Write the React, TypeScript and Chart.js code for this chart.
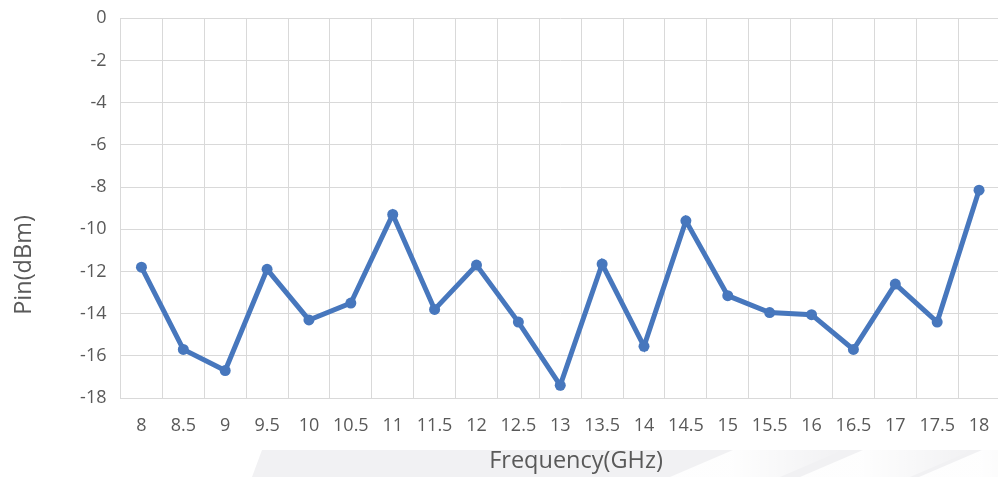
import React, { useEffect, useRef } from 'react';
import { Chart, registerables } from 'chart.js';

Chart.register(...registerables);

const frequencies: string[] = ['8', '8.5', '9', '9.5', '10', '10.5', '11', '11.5', '12', '12.5', '13', '13.5', '14', '14.5', '15', '15.5', '16', '16.5', '17', '17.5', '18'];
const pinValues: number[] = [-11.8, -15.7, -16.7, -11.9, -14.3, -13.5, -9.3, -13.8, -11.7, -14.4, -17.4, -11.65, -15.55, -9.6, -13.15, -13.95, -14.05, -15.7, -12.6, -14.4, -8.15];
const yMin = -18;
const yMax = 0;
const yStep = 2;
const xTitle = 'Frequency(GHz)';
const yTitle = 'Pin(dBm)';

const FONT = '"Open Sans", "Noto Sans", sans-serif';
const TEXT = '#595959';
const LINE = '#4777BD';
const GRID = '#D9D9D9';

const decor = {
  id: 'decor',
  beforeDraw(chart: any) {
    const ctx = chart.ctx as CanvasRenderingContext2D;
    ctx.save();
    ctx.fillStyle = '#F1F1F3';
    ctx.beginPath();
    ctx.moveTo(262, 450);
    ctx.lineTo(1000, 450);
    ctx.lineTo(1000, 477);
    ctx.lineTo(252, 477);
    ctx.closePath();
    ctx.fill();
    const stripes = [733, 863, 982];
    stripes.forEach((x0) => {
      const g = ctx.createLinearGradient(x0, 0, x0 + 110, 0);
      g.addColorStop(0, 'rgba(255,255,255,0.9)');
      g.addColorStop(1, 'rgba(255,255,255,0)');
      ctx.fillStyle = g;
      ctx.beginPath();
      ctx.moveTo(x0, 450);
      ctx.lineTo(x0 + 110, 450);
      ctx.lineTo(x0 + 47, 477);
      ctx.lineTo(x0 - 63, 477);
      ctx.closePath();
      ctx.fill();
    });
    ctx.restore();
  },
  afterDraw(chart: any) {
    const ctx = chart.ctx as CanvasRenderingContext2D;
    ctx.save();
    ctx.fillStyle = TEXT;
    ctx.font = `23.5px ${FONT}`;
    ctx.textAlign = 'center';
    ctx.textBaseline = 'alphabetic';
    ctx.fillText(xTitle, 576, 468);
    ctx.translate(31, 265);
    ctx.rotate(-Math.PI / 2);
    ctx.fillText(yTitle, 0, 0);
    ctx.restore();
  },
};

export default function App() {
  const ref = useRef<HTMLCanvasElement | null>(null);

  useEffect(() => {
    if (!ref.current) return;
    const chart = new Chart(ref.current, {
      type: 'line',
      data: {
        labels: frequencies,
        datasets: [
          {
            data: pinValues,
            borderColor: LINE,
            backgroundColor: LINE,
            borderWidth: 5,
            pointRadius: 5.5,
            pointHoverRadius: 5.5,
            pointBackgroundColor: LINE,
            pointBorderWidth: 0,
            tension: 0,
            fill: false,
            clip: false,
          },
        ],
      },
      options: {
        animation: false,
        responsive: true,
        maintainAspectRatio: false,
        layout: { autoPadding: false, padding: { top: 18.3, left: 0, right: 0, bottom: 0 } },
        plugins: {
          legend: { display: false },
          tooltip: { enabled: false },
          title: { display: false },
        },
        scales: {
          x: {
            type: 'category',
            offset: true,
            grid: { offset: true, color: GRID, lineWidth: 1, drawTicks: false },
            border: { color: GRID, width: 1 },
            ticks: { color: TEXT, font: { family: FONT, size: 18 }, padding: 17, maxRotation: 0, autoSkip: false },
            afterFit: (s: any) => {
              s.height = 79;
              s.paddingLeft = 0;
              s.paddingRight = 0;
            },
          },
          y: {
            min: yMin,
            max: yMax,
            ticks: { stepSize: yStep, color: TEXT, font: { family: FONT, size: 18 }, padding: 14 },
            grid: { color: GRID, lineWidth: 1, drawTicks: false },
            border: { color: GRID, width: 1 },
            afterFit: (s: any) => {
              s.width = 120.5;
              s.paddingTop = 0;
              s.paddingBottom = 0;
            },
          },
        },
      },
      plugins: [decor],
    });
    return () => chart.destroy();
  }, []);

  return (
    <div style={{ position: 'fixed', left: 0, top: 0, width: 998, height: 477, overflow: 'hidden', background: '#fff' }}>
      <div style={{ position: 'relative', width: 1000, height: 477 }}>
        <canvas ref={ref} />
      </div>
    </div>
  );
}
